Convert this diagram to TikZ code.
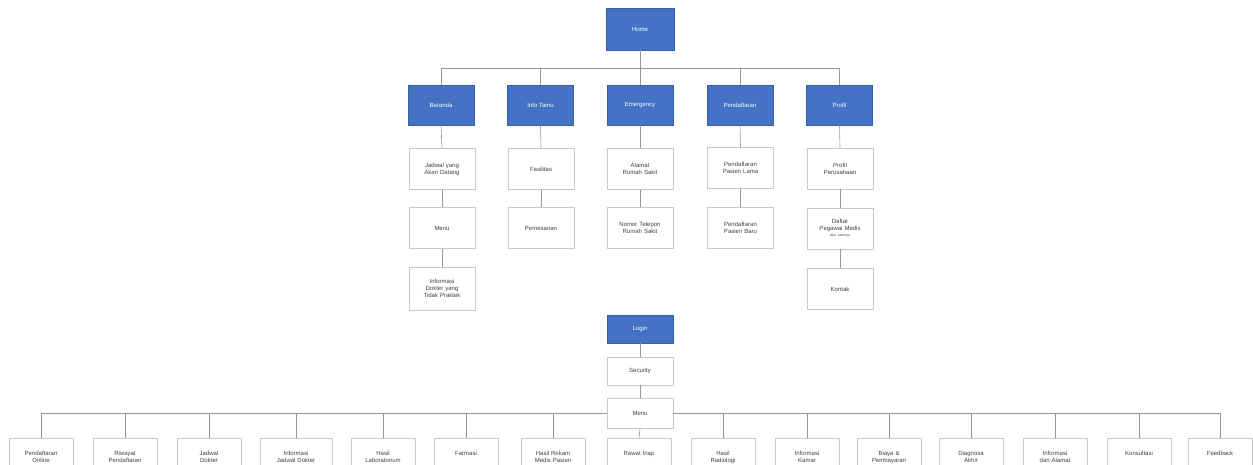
\documentclass[tikz,border=0pt]{standalone}
\usepackage{fontspec}
\setmainfont{Liberation Sans}
\hyphenpenalty=10000
\exhyphenpenalty=10000
\definecolor{hblue}{RGB}{68,114,196}
\definecolor{hborder}{RGB}{55,95,165}
\definecolor{lgray}{RGB}{200,200,200}
\definecolor{cgray}{RGB}{150,150,150}
\begin{document}
\begin{tikzpicture}[x=1pt,y=-1pt,
  every node/.style={font=\fontsize{6}{7}\selectfont, align=center, inner sep=1pt},
  bluebox/.style={draw=hborder, fill=hblue, text=white, minimum width=66pt, minimum height=40pt, line width=0.6pt},
  leaf/.style={draw=lgray, fill=white, text=black!75, text width=56pt, minimum width=66pt, minimum height=41pt, line width=0.6pt},
  conn/.style={draw=cgray, line width=0.6pt}]
\useasboundingbox (0,0) rectangle (1253,465);
\clip (0,0) rectangle (1253,465);
% top tree
\node[bluebox, minimum width=68pt, minimum height=42pt] (home) at (640,29) {Home};
\node[bluebox] (h1) at (441,105) {Beranda};
\node[bluebox] (h2) at (540.5,105) {Info Tamu};
\node[bluebox] (h3) at (640,105) {Emergency};
\node[bluebox] (h4) at (740,105) {Pendaftaran};
\node[bluebox] (h5) at (839.5,105) {Profil};
\coordinate (bus) at (640,68);
\draw[conn] (home.south) -- (bus);
\foreach \h in {h1,h2,h3,h4,h5}{\draw[conn] (bus) -| (\h.north);}
% children
\node[leaf] (c11) at (442,169) {Jadwal yang Akan Datang};
\node[leaf] (c12) at (442,228) {Menu};
\node[leaf, minimum height=43pt] (c13) at (442,288.5) {Informasi\\Dokter yang\\Tidak Praktek};
\node[leaf] (c21) at (541,169) {Fasilitas};
\node[leaf] (c22) at (541,228) {Pemesanan};
\node[leaf] (c31) at (640,169) {Alamat\\Rumah Sakit};
\node[leaf] (c32) at (640,228) {Nomor Telepon Rumah Sakit};
\node[leaf] (c41) at (740.5,168) {Pendaftaran Pasien Lama};
\node[leaf] (c42) at (740.5,228) {Pendaftaran Pasien Baru};
\node[leaf] (c51) at (840,168.5) {Profil\\Perusahaan};
\node[leaf] (c52) at (840,228.5) {Daftar\\Pegawai Medis\\[-1pt]{\fontsize{3.5}{4}\selectfont dan Lainnya}};
\node[leaf] (c53) at (840,289) {Kontak};
\foreach \a/\b in {h1/c11,c11/c12,c12/c13,h2/c21,c21/c22,h3/c31,c31/c32,h4/c41,c41/c42,h5/c51,c51/c52,c52/c53}{\draw[conn] (\a.south) -- (\b.north);}
% bottom tree
\node[bluebox, minimum height=28pt] (login) at (640,329) {Login};
\node[leaf, minimum height=28pt] (sec) at (640,371) {Security};
\node[leaf, minimum height=30pt] (menu) at (640,413) {Menu};
\draw[conn] (login.south) -- (sec.north);
\draw[conn] (sec.south) -- (menu.north);
\tikzset{bleaf/.style={leaf, minimum height=40pt, minimum width=64pt, text width=54pt, anchor=north, text depth=10pt}}
\node[bleaf] (b1) at (41,438) {Pendaftaran\\Online};
\node[bleaf] (b2) at (125,438) {Riwayat\\Pendaftaran};
\node[bleaf] (b3) at (209,438) {Jadwal\\Dokter};
\node[bleaf, minimum width=72pt, text width=62pt] (b4) at (296,438) {Informasi\\Jadwal Dokter};
\node[bleaf] (b5) at (383,438) {Hasil\\Laboratorium};
\node[bleaf] (b6) at (466,438) {Farmasi};
\node[bleaf] (b7) at (553,438) {Hasil Rekam\\Medis Pasien};
\node[bleaf] (b8) at (639,438) {Rawat Inap};
\node[bleaf] (b9) at (723,438) {Hasil\\Radiologi};
\node[bleaf] (b10) at (807,438) {Informasi\\Kamar};
\node[bleaf] (b11) at (889,438) {Biaya \&\\Pembayaran};
\node[bleaf] (b12) at (971,438) {Diagnosa\\Akhir};
\node[bleaf] (b13) at (1055,438) {Informasi\\dan Alamat};
\node[bleaf] (b14) at (1139,438) {Konsultasi};
\node[bleaf] (b15) at (1220,438) {Feedback};
\foreach \b in {b1,b2,b3,b4,b5,b6,b7}{\draw[conn] (menu.west) -| (\b.north);}
\foreach \b in {b9,b10,b11,b12,b13,b14,b15}{\draw[conn] (menu.east) -| (\b.north);}
\draw[conn] (menu.south) -- (b8.north);
\end{tikzpicture}
\end{document}
